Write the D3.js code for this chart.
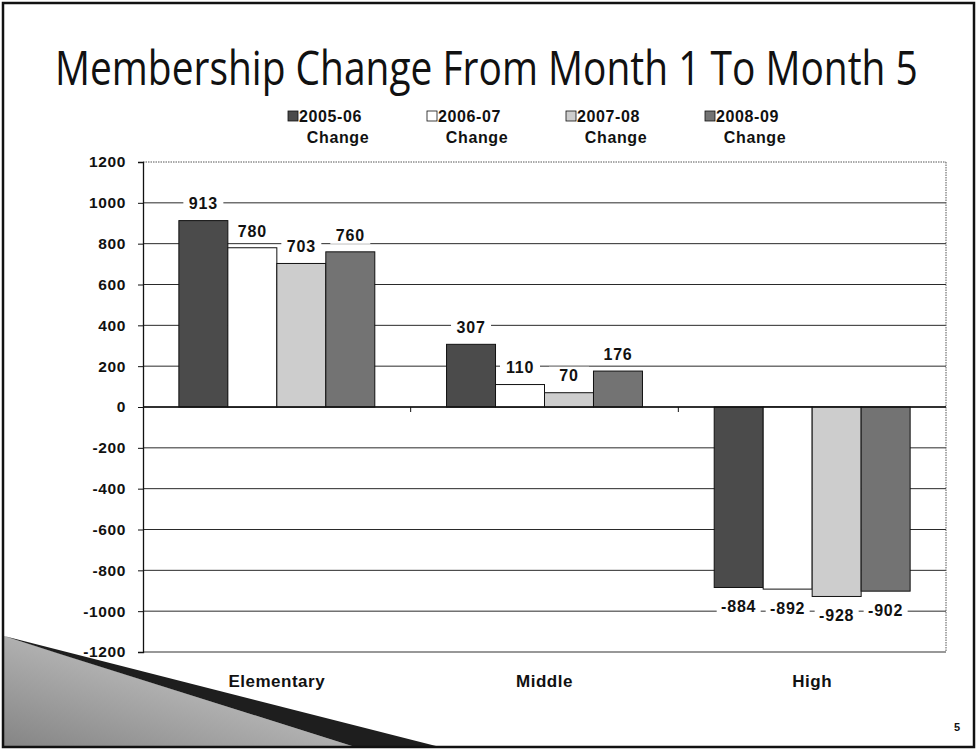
<!DOCTYPE html>
<html>
<head>
<meta charset="utf-8">
<script src="https://cdn.jsdelivr.net/npm/d3@7"></script>
<style>
  body { margin: 0; background: #fff; }
  svg { display: block; }
</style>
</head>
<body>
<div id="chart"></div>
<script>
// chart data
const categories = ["Elementary", "Middle", "High"];
const seriesNames = ["2005-06", "2006-07", "2007-08", "2008-09"];
const change0506 = [913, 307, -884];
const change0607 = [780, 110, -892];
const change0708 = [703, 70, -928];
const change0809 = [760, 176, -902];
const yTicks = [-1200, -1000, -800, -600, -400, -200, 0, 200, 400, 600, 800, 1000, 1200];

const seriesValues = [change0506, change0607, change0708, change0809];
const fills = ["#4b4b4b", "#ffffff", "#cdcdcd", "#737373"];

const W = 977, H = 750;
const svg = d3.select("#chart").append("svg")
    .attr("width", W).attr("height", H);

// background decoration (slide swoosh)
const defs = svg.append("defs");
const grad = defs.append("linearGradient").attr("id", "swoosh")
    .attr("x1", "0%").attr("y1", "100%").attr("x2", "100%").attr("y2", "0%");
grad.append("stop").attr("offset", "0%").attr("stop-color", "#858585");
grad.append("stop").attr("offset", "60%").attr("stop-color", "#b8b8b8");
grad.append("stop").attr("offset", "100%").attr("stop-color", "#dadada");

svg.append("path")
    .attr("d", "M4,636 L352,746 L4,746 Z")
    .attr("fill", "url(#swoosh)");
svg.append("path")
    .attr("d", "M4,636 L436,746 L352,746 L60,654 Z")
    .attr("fill", "#1e1e1e");

// scales
const x0 = d3.scaleBand().domain(categories).range([143, 946])
    .paddingInner(0.268).paddingOuter(0.134);
const x1 = d3.scaleBand().domain(seriesNames).range([0, x0.bandwidth()]);
const y = d3.scaleLinear().domain([-1200, 1200]).range([652, 162]);

const font = "'Liberation Sans', Arial, sans-serif";

// gridlines
svg.append("g").selectAll("line").data(yTicks.filter(d => d !== 1200 && d !== -1200))
  .join("line")
    .attr("x1", 143).attr("x2", 946)
    .attr("y1", d => y(d)).attr("y2", d => y(d))
    .attr("stroke", "#2a2a2a").attr("stroke-width", 1);

// plot border (dotted top/right, solid bottom)
svg.append("line").attr("x1", 143).attr("x2", 946).attr("y1", y(1200)).attr("y2", y(1200))
    .attr("stroke", "#555").attr("stroke-dasharray", "1.5,1");
svg.append("line").attr("x1", 946).attr("x2", 946).attr("y1", y(1200)).attr("y2", y(-1200))
    .attr("stroke", "#555").attr("stroke-dasharray", "1.5,1");
svg.append("line").attr("x1", 143).attr("x2", 946).attr("y1", y(-1200)).attr("y2", y(-1200))
    .attr("stroke", "#333").attr("stroke-width", 1.2);

// bars
const groups = svg.append("g").selectAll("g").data(categories).join("g")
    .attr("transform", d => `translate(${x0(d)},0)`);

groups.selectAll("rect")
  .data((c, ci) => seriesNames.map((s, si) => ({ s, si, v: seriesValues[si][ci] })))
  .join("rect")
    .attr("x", d => x1(d.s))
    .attr("width", x1.bandwidth())
    .attr("y", d => y(Math.max(0, d.v)))
    .attr("height", d => Math.abs(y(d.v) - y(0)))
    .attr("fill", (d) => fills[d.si])
    .attr("stroke", "#111").attr("stroke-width", 1);

// data labels with white backgrounds
const labels = groups.selectAll("g.lbl")
  .data((c, ci) => seriesNames.map((s, si) => ({ s, si, v: seriesValues[si][ci] })))
  .join("g").attr("class", "lbl")
    .attr("transform", d => {
      const cx = x1(d.s) + x1.bandwidth() / 2;
      const cy = d.v >= 0 ? y(d.v) - 17 : y(d.v) + 19;
      return `translate(${cx},${cy})`;
    });
labels.append("rect")
    .attr("x", d => d.v < 0 ? -22 : -20).attr("y", -9)
    .attr("width", d => d.v < 0 ? 44 : 40).attr("height", 18)
    .attr("fill", "#fff");
labels.append("text")
    .attr("text-anchor", "middle").attr("dy", "0.36em")
    .attr("font-family", font).attr("font-weight", "bold").attr("font-size", 16)
    .attr("letter-spacing", 0.8)
    .attr("fill", "#111")
    .text(d => String(d.v));

// y axis (plain hyphen for negatives, no thousands separator)
const yAxis = svg.append("g").attr("transform", "translate(143,0)")
    .call(d3.axisLeft(y).tickValues(yTicks).tickFormat(d => String(d))
      .tickSize(5).tickPadding(12));
yAxis.select(".domain").attr("stroke", "#111").attr("stroke-width", 1.3);
yAxis.selectAll(".tick line").attr("stroke", "#111");
yAxis.selectAll("text")
    .attr("font-family", font).attr("font-weight", "bold").attr("font-size", 15.5)
    .attr("letter-spacing", 0.6)
    .attr("fill", "#111");

// category axis on the zero line
svg.append("line").attr("x1", 143).attr("x2", 946).attr("y1", y(0)).attr("y2", y(0))
    .attr("stroke", "#111").attr("stroke-width", 1.3);
const boundaries = categories.slice(1).map(c => x0(c) - x0.step() * x0.paddingInner() / 2);
svg.append("g").selectAll("line").data(boundaries).join("line")
    .attr("x1", d => d).attr("x2", d => d)
    .attr("y1", y(0)).attr("y2", y(0) + 5)
    .attr("stroke", "#111");

svg.append("g").selectAll("text").data(categories).join("text")
    .attr("x", d => x0(d) + x0.bandwidth() / 2)
    .attr("y", 687)
    .attr("text-anchor", "middle")
    .attr("font-family", font).attr("font-weight", "bold").attr("font-size", 17)
    .attr("letter-spacing", 0.5)
    .attr("fill", "#111")
    .text(d => d);

// legend
const legend = svg.append("g").selectAll("g").data(seriesNames).join("g")
    .attr("transform", (d, i) => `translate(${288 + i * 139},0)`);
legend.append("rect")
    .attr("x", 0).attr("y", 111).attr("width", 10).attr("height", 10)
    .attr("fill", (d, i) => fills[i]).attr("stroke", "#111").attr("stroke-width", 0.8);
legend.append("text")
    .attr("x", 11).attr("y", 122)
    .attr("font-family", font).attr("font-weight", "bold").attr("font-size", 16)
    .attr("letter-spacing", 0.6)
    .attr("fill", "#111")
    .text(d => d);
legend.append("text")
    .attr("x", 50).attr("y", 143)
    .attr("text-anchor", "middle")
    .attr("font-family", font).attr("font-weight", "bold").attr("font-size", 16)
    .attr("letter-spacing", 0.6)
    .attr("fill", "#111")
    .text("Change");

// title, squeezed horizontally to the reference width
const title = svg.append("text")
    .attr("x", 0).attr("y", 0)
    .attr("font-family", "'Open Sans', sans-serif").attr("font-size", 48)
    .attr("fill", "#111")
    .text("Membership Change From Month 1 To Month 5");
const tw = title.node().getComputedTextLength();
title.attr("transform", `translate(55,85) scale(${863 / tw},1)`);

// page number
svg.append("text")
    .attr("x", 957).attr("y", 731)
    .attr("text-anchor", "middle")
    .attr("font-family", font).attr("font-weight", "bold").attr("font-size", 11)
    .attr("fill", "#111")
    .text("5");

// slide frame
svg.append("rect")
    .attr("x", 3).attr("y", 3).attr("width", 971).attr("height", 744)
    .attr("fill", "none").attr("stroke", "#111").attr("stroke-width", 2.5);
</script>
</body>
</html>
